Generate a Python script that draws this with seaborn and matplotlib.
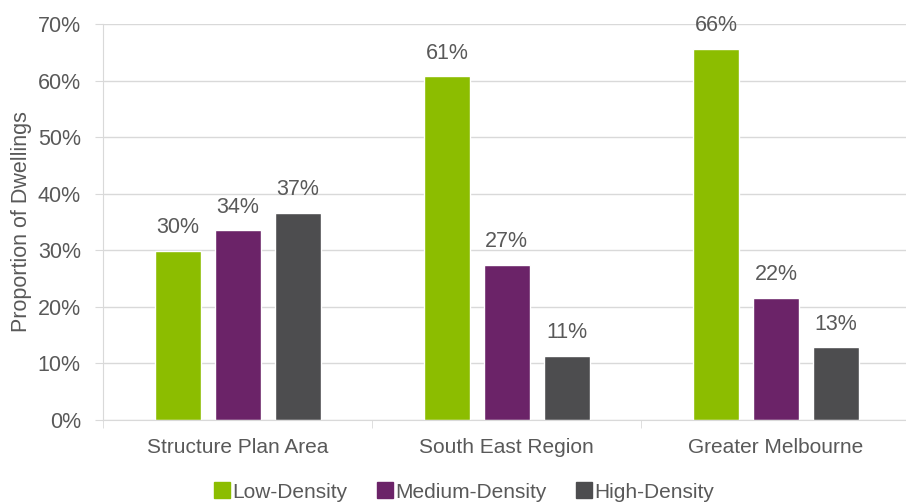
import matplotlib
matplotlib.use("Agg")
import matplotlib.pyplot as plt
import seaborn as sns
import pandas as pd
from matplotlib.ticker import FixedLocator, PercentFormatter
from matplotlib.lines import Line2D

categories = ["Structure Plan Area", "South East Region", "Greater Melbourne"]
series = ["Low-Density", "Medium-Density", "High-Density"]
low = [29.9, 60.8, 65.6]
medium = [33.5, 27.4, 21.6]
high = [36.6, 11.4, 12.9]
colors = ["#8CBD00", "#6B2368", "#4D4D4F"]

rows = []
for s, vals in zip(series, [low, medium, high]):
    for c, v in zip(categories, vals):
        rows.append({"Area": c, "Density": s, "Value": v})
df = pd.DataFrame(rows)

sns.set_style("white")
plt.rcParams["font.family"] = ["Liberation Sans", "DejaVu Sans"]
text_color = "#595959"
grid_color = "#D9D9D9"

fig = plt.figure(figsize=(9.06, 5.03), dpi=100)
ax = fig.add_axes([103 / 906, 1 - 420 / 503, (910.5 - 103) / 906, (420 - 24) / 503])

sns.barplot(data=df, x="Area", y="Value", hue="Density", hue_order=series,
            order=categories, palette=colors, width=0.668, gap=0.233,
            ax=ax, legend=False, saturation=1)

for container in ax.containers:
    ax.bar_label(container, labels=[f"{v:.0f}%" for v in container.datavalues],
                 padding=9, fontsize=15.5, color=text_color)

ax.set_ylim(0, 70)
ax.set_xlim(-0.5, 2.5)
ax.yaxis.set_major_locator(FixedLocator(range(0, 71, 10)))
ax.yaxis.set_major_formatter(PercentFormatter(decimals=0))
ax.grid(axis="y", color=grid_color, linewidth=1)
ax.set_axisbelow(True)
for side in ["top", "right"]:
    ax.spines[side].set_visible(False)
ax.spines["left"].set_color(grid_color)
ax.spines["bottom"].set_color(grid_color)
ax.tick_params(axis="y", length=6, color=grid_color, labelsize=15.5, labelcolor=text_color, pad=10, left=True)
ax.tick_params(axis="x", length=0, labelsize=15, labelcolor=text_color, pad=13)
ax.xaxis.set_minor_locator(FixedLocator([-0.5, 0.5, 1.5, 2.5]))
ax.tick_params(axis="x", which="minor", length=6, color=grid_color, bottom=True)
ax.set_xlabel("")
ax.set_ylabel("Proportion of Dwellings", fontsize=15.5, color=text_color, labelpad=4)

handles = [Line2D([0], [0], marker="s", linestyle="", markersize=11,
                  markerfacecolor=c, markeredgecolor=c) for c in colors]
fig.legend(handles, series, loc="center", bbox_to_anchor=(463 / 906, 1 - 492 / 503),
           ncol=3, frameon=False, fontsize=15, labelcolor=text_color,
           handletextpad=0.0, columnspacing=1.3, handlelength=1.0)

fig.savefig("out.png", dpi=100)
